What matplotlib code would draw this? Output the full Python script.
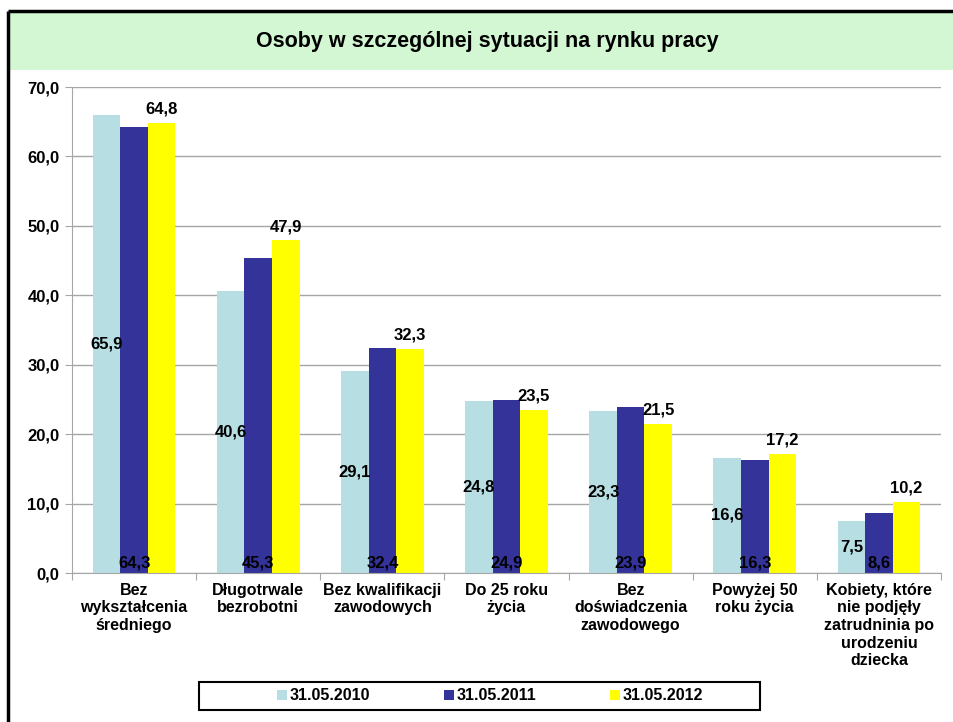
import matplotlib
matplotlib.use("Agg")
import matplotlib.pyplot as plt
import numpy as np
from matplotlib.patches import Rectangle
from matplotlib.lines import Line2D

plt.rcParams['font.family'] = ['Liberation Sans', 'DejaVu Sans']
plt.rcParams['font.weight'] = 'bold'

categories = ["Bez\nwykształcenia\nśredniego", "Długotrwale\nbezrobotni",
              "Bez kwalifikacji\nzawodowych", "Do 25 roku\nżycia",
              "Bez\ndoświadczenia\nzawodowego", "Powyżej 50\nroku życia",
              "Kobiety, które\nnie podjęły\nzatrudninia po\nurodzeniu\ndziecka"]
series_names = ["31.05.2010", "31.05.2011", "31.05.2012"]
v2010 = [65.9, 40.6, 29.1, 24.8, 23.3, 16.6, 7.5]
v2011 = [64.3, 45.3, 32.4, 24.9, 23.9, 16.3, 8.6]
v2012 = [64.8, 47.9, 32.3, 23.5, 21.5, 17.2, 10.2]
yticks = [0, 10, 20, 30, 40, 50, 60, 70]
colors = ["#B7DFE3", "#333399", "#FFFF00"]

W, H = 954, 722
fig = plt.figure(figsize=(W / 100, H / 100), dpi=100)
fig.patch.set_facecolor("white")

# title band
fig.patches.append(Rectangle((9 / W, 1 - 70 / H), 1, 59 / H, transform=fig.transFigure,
                             facecolor="#D3F6D3", edgecolor="none", zorder=0))
# frame lines (top and left)
fig.add_artist(Line2D([8 / W, 1.02], [1 - 11 / H, 1 - 11 / H], transform=fig.transFigure,
                      color="black", lw=2.5, solid_capstyle="butt"))
fig.add_artist(Line2D([8 / W, 8 / W], [-0.02, 1 - 11 / H], transform=fig.transFigure,
                      color="black", lw=2.5, solid_capstyle="butt"))
fig.text(487 / W, 1 - 41 / H, "Osoby w szczególnej sytuacji na rynku pracy",
         ha="center", va="center", fontsize=15.5, fontweight="bold")

ax = fig.add_axes([72 / W, 1 - 573 / H, (941 - 72) / W, (573 - 87) / H])
n = len(categories)
x = np.arange(n)
bw = 0.222
data = [v2010, v2011, v2012]
bars = []
for i, (vals, c, name) in enumerate(zip(data, colors, series_names)):
    b = ax.bar(x + (i - 1) * bw, vals, bw, color=c, label=name, zorder=2)
    bars.append(b)

fs = 12
for j in range(n):
    ax.text(x[j] - bw, v2010[j] / 2, f"{v2010[j]:.1f}".replace(".", ","),
            ha="center", va="center", fontsize=fs, fontweight="bold", zorder=3)
    ax.text(x[j], 0.3, f"{v2011[j]:.1f}".replace(".", ","),
            ha="center", va="bottom", fontsize=fs, fontweight="bold", zorder=3)
    ax.text(x[j] + bw, v2012[j] + 0.9, f"{v2012[j]:.1f}".replace(".", ","),
            ha="center", va="bottom", fontsize=fs, fontweight="bold", zorder=3)

ax.set_xlim(-0.5, n - 0.5)
ax.set_ylim(0, 70)
ax.set_yticks(yticks)
ax.set_yticklabels([f"{t:.1f}".replace(".", ",") for t in yticks], fontsize=fs, fontweight="bold")
ax.yaxis.grid(True, color="#A6A6A6", lw=1, zorder=0)
ax.set_axisbelow(True)
ax.set_xticks(np.arange(-0.5, n, 1.0), minor=False)
ax.set_xticklabels([])
ax.tick_params(axis="x", length=5, color="#A6A6A6", direction="out")
ax.tick_params(axis="y", length=5, color="#A6A6A6", direction="out", pad=4)
for j in range(n):
    ax.text(x[j], -1.4, categories[j], ha="center", va="top", fontsize=11.5,
            fontweight="bold", linespacing=1.22)
for s in ["top", "right"]:
    ax.spines[s].set_visible(False)
ax.spines["left"].set_color("#A6A6A6")
ax.spines["bottom"].set_color("#A6A6A6")

# legend box
fig.patches.append(Rectangle((199 / W, 1 - 710 / H), (760 - 199) / W, 28 / H,
                             transform=fig.transFigure, facecolor="white",
                             edgecolor="black", lw=1.5, zorder=1))
leg = fig.legend(handles=bars, labels=series_names, loc="center",
                 bbox_to_anchor=(490 / W, 1 - 696 / H), ncol=3,
                 frameon=False, fontsize=11.5,
                 handlelength=0.6, handleheight=0.6, handletextpad=0.15,
                 columnspacing=4.65, borderpad=0.3)
for t in leg.get_texts():
    t.set_fontweight("bold")

fig.savefig("out.png", dpi=100)
